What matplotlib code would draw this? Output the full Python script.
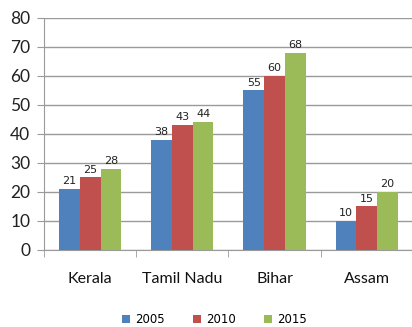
import matplotlib.pyplot as plt
import numpy as np

states = ["Kerala", "Tamil Nadu", "Bihar", "Assam"]
years = ["2005", "2010", "2015"]
v2005 = [21, 38, 55, 10]
v2010 = [25, 43, 60, 15]
v2015 = [28, 44, 68, 20]

colors = ["#4F81BD", "#C0504D", "#9BBB59"]
grid_c = "#9a9a9a"

fig = plt.figure(figsize=(4.12, 3.27), dpi=100)
ax = fig.add_axes([0.107, 0.2355, 0.895, 0.7095])

x = np.arange(len(states))
w = 0.225
for k, (vals, yr) in enumerate(zip([v2005, v2010, v2015], years)):
    pos = x + (k - 1) * w
    ax.bar(pos, vals, width=w, color=colors[k], label=yr, zorder=3)
    for px, v in zip(pos, vals):
        ax.text(px, v + 1.0, str(v), ha="center", va="bottom",
                fontsize=8, family="DejaVu Sans", color="#222222", zorder=4)

ax.set_ylim(0, 80)
ax.set_xlim(-0.5, 3.5)
ax.set_yticks(range(0, 81, 10))
ax.yaxis.grid(True, color=grid_c, linewidth=1, zorder=0)
ax.tick_params(axis="y", length=5, color=grid_c, labelsize=12.5, labelcolor="#222222", pad=5)
for lbl in ax.get_yticklabels():
    lbl.set_family("Lato")

ax.set_xticks(x)
ax.set_xticklabels(states, family="Lato", fontsize=11.5, color="#111111")
ax.set_xticks(np.arange(-0.5, 3.6, 1), minor=True)
ax.tick_params(axis="x", which="major", length=0, pad=16)
ax.tick_params(axis="x", which="minor", length=5, color=grid_c)

for s in ["top", "right"]:
    ax.spines[s].set_visible(False)
ax.spines["left"].set_color(grid_c)
ax.spines["bottom"].set_color(grid_c)

leg = fig.legend(loc="lower center", ncol=3, bbox_to_anchor=(0.52, -0.03),
                 frameon=False, handlelength=0.7, handleheight=0.7,
                 columnspacing=2.4, handletextpad=0.4,
                 prop={"family": "DejaVu Sans", "size": 8.5})

fig.savefig("out.png", dpi=100)
